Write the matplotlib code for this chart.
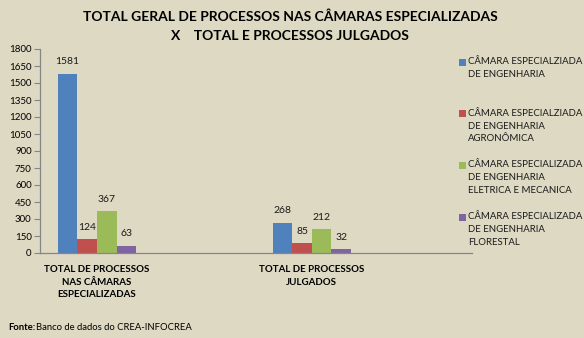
import matplotlib
matplotlib.use("Agg")
import matplotlib.pyplot as plt
from matplotlib.patches import Rectangle

# Data
categories = ["TOTAL DE PROCESSOS\nNAS CÂMARAS\nESPECIALIZADAS", "TOTAL DE PROCESSOS\nJULGADOS"]
series_names = [
    "CÂMARA ESPECIALZIADA\nDE ENGENHARIA",
    "CÂMARA ESPECIALZIADA\nDE ENGENHARIA\nAGRONÔMICA",
    "CÂMARA ESPECIALIZADA\nDE ENGENHARIA\nELETRICA E MECANICA",
    "CÂMARA ESPECIALIZADA\nDE ENGENHARIA\nFLORESTAL",
]
values = [
    [1581, 268],
    [124, 85],
    [367, 212],
    [63, 32],
]
colors = ["#4F81BD", "#C0504D", "#9BBB59", "#8064A2"]
y_ticks = list(range(0, 1801, 150))

FONT = "Lato"
BG = "#DDD9C3"

fig = plt.figure(figsize=(5.84, 3.38), dpi=100, facecolor=BG)
ax = fig.add_axes([40 / 584, 1 - 253 / 338, 432 / 584, 204 / 338], facecolor=BG)

bar_w = 0.091
n = len(series_names)
for i, (name, vals, c) in enumerate(zip(series_names, values, colors)):
    xs = [k + (i - (n - 1) / 2) * bar_w for k in range(len(categories))]
    ax.bar(xs, vals, width=bar_w, color=c, linewidth=0)
    for x, v in zip(xs, vals):
        ax.text(x, v + 65, str(v), ha="center", va="bottom", fontsize=7.5,
                family=FONT, color="#1a1a1a")

ax.set_xlim(-0.265, 1.745)
ax.set_ylim(0, 1800)
ax.set_yticks(y_ticks)
ax.set_yticklabels([str(t) for t in y_ticks], fontsize=7, family=FONT)
ax.set_xticks(range(len(categories)))
ax.set_xticklabels(categories, fontsize=7, family=FONT, fontweight="bold",
                   linespacing=1.45)
ax.tick_params(axis="x", length=0, pad=9)
ax.tick_params(axis="y", length=4, width=0.8, color="#868686", pad=2)
for s in ("top", "right"):
    ax.spines[s].set_visible(False)
for s in ("left", "bottom"):
    ax.spines[s].set_color("#868686")
    ax.spines[s].set_linewidth(0.9)

# Title
fig.text(0.497, 1 - 17 / 338, "TOTAL GERAL DE PROCESSOS NAS CÂMARAS ESPECIALIZADAS",
         ha="center", va="center", fontsize=10, fontweight="bold", family=FONT)
fig.text(0.497, 1 - 36 / 338, "X    TOTAL E PROCESSOS JULGADOS",
         ha="center", va="center", fontsize=10, fontweight="bold", family=FONT)

# Legend
for i, (name, c) in enumerate(zip(series_names, colors)):
    ytop = 62 + i * 51.7
    fig.patches.append(Rectangle((459 / 584, 1 - (ytop + 3.5) / 338), 7 / 584, 7 / 338,
                                 transform=fig.transFigure, facecolor=c, edgecolor="none"))
    fig.text(468 / 584, 1 - (ytop - 5) / 338, name, ha="left", va="top",
             fontsize=6.9, family=FONT, linespacing=1.55, color="#1a1a1a")

# Source note
fig.text(8 / 584, 1 - 327 / 338, "Fonte:", ha="left", va="center", fontsize=6.8,
         fontweight="bold", family=FONT)
fig.text(36 / 584, 1 - 327 / 338, "Banco de dados do CREA-INFOCREA", ha="left",
         va="center", fontsize=6.8, family=FONT)

fig.savefig("out.png", dpi=100, facecolor=BG)
